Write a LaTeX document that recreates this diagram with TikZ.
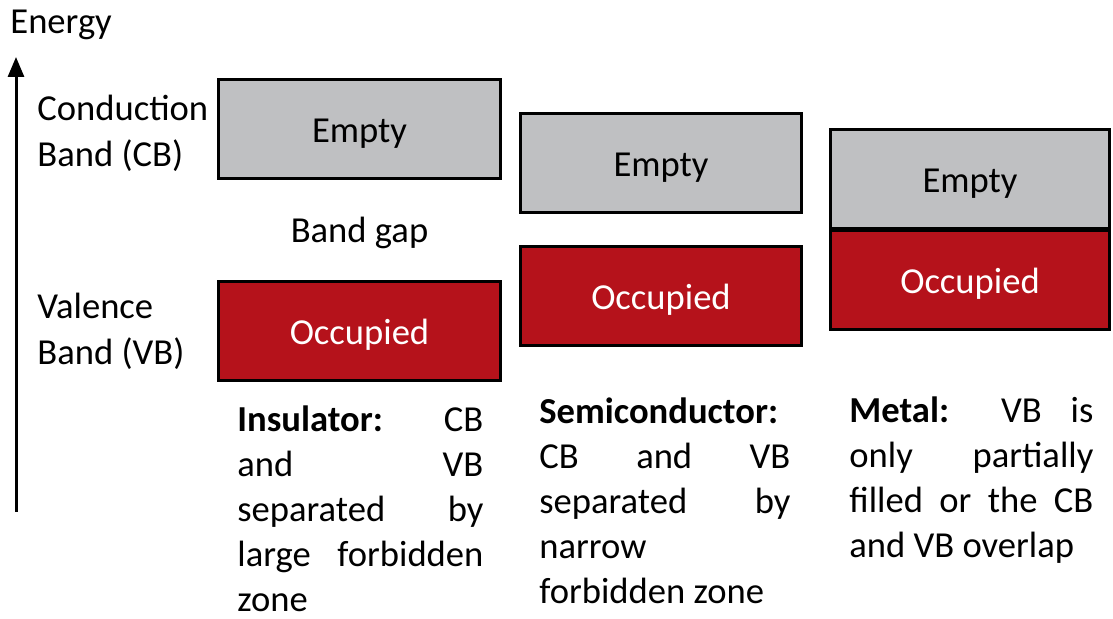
\documentclass[tikz,border=0pt]{standalone}
\usepackage{fontspec}
\setmainfont{Carlito}
\usepackage{tikz}
\usetikzlibrary{arrows.meta}
\definecolor{cbgray}{RGB}{191,192,194}
\definecolor{vbred}{RGB}{181,18,27}

\begin{document}
\begin{tikzpicture}[x=0.5pt, y=-0.5pt,
  band/.style={draw=black, line width=1.5pt, inner sep=0pt, minimum width=141pt, minimum height=49.5pt, text height=13.5pt, text depth=0pt, font=\fontsize{18.3}{22.5}\selectfont},
  emptyband/.style={band, fill=cbgray, text=black},
  fullband/.style={band, fill=vbred, text=white},
  sidetext/.style={align=left, inner sep=0pt, anchor=west, font=\fontsize{18.3}{23}\selectfont},
  bandnote/.style={align=justify, inner sep=0pt, anchor=base west, font={\fontsize{18.3}{22.5}\selectfont\hyphenpenalty=10000\tolerance=10000}}]
\useasboundingbox (0,0) rectangle (1113,619);

% energy axis
\node[inner sep=0pt, anchor=base west, font=\fontsize{18.3}{22.5}\selectfont] (energy) at (10,34) {Energy};
\coordinate (axisbot) at (16,512);
\coordinate (axistop) at (16,57);
\draw[line width=1.5pt, -{Triangle[width=8pt,length=10pt]}] (axisbot) -- (axistop);

\node[sidetext] (cblabel) at (37,133) {Conduction\\Band (CB)};
\node[sidetext] (vblabel) at (37,331) {Valence\\Band (VB)};

% insulator
\node[emptyband] (cb1) at (359.5,129) {Empty};
\node[fullband] (vb1) at (359.5,331) {Occupied};
\node[inner sep=0pt, font=\fontsize{18.3}{22.5}\selectfont] (gap) at (359.5,233) {Band gap};
\node[bandnote, text width=123pt] (ins) at (237,432) {\textbf{Insulator:} CB\linebreak and VB\linebreak separated by\linebreak large forbidden\linebreak zone};

% semiconductor
\node[emptyband, minimum width=140.5pt] (cb2) at (661,163.5) {Empty};
\node[fullband, minimum width=140.5pt] (vb2) at (661,296.5) {Occupied};
\node[bandnote, text width=125.5pt] (semi) at (539,424) {\textbf{Semiconductor:}\linebreak CB and VB\linebreak separated by\linebreak narrow\linebreak forbidden zone};

% metal
\node[emptyband, minimum width=139.5pt] (cb3) at (970,179) {Empty};
\node[fullband, minimum width=139.5pt] (vb3) at (970,280.5) {Occupied};
\node[bandnote, text width=122pt] (met) at (849,423) {\textbf{Metal:} VB is\linebreak only partially\linebreak filled or the CB\linebreak and VB overlap};
\end{tikzpicture}
\end{document}
